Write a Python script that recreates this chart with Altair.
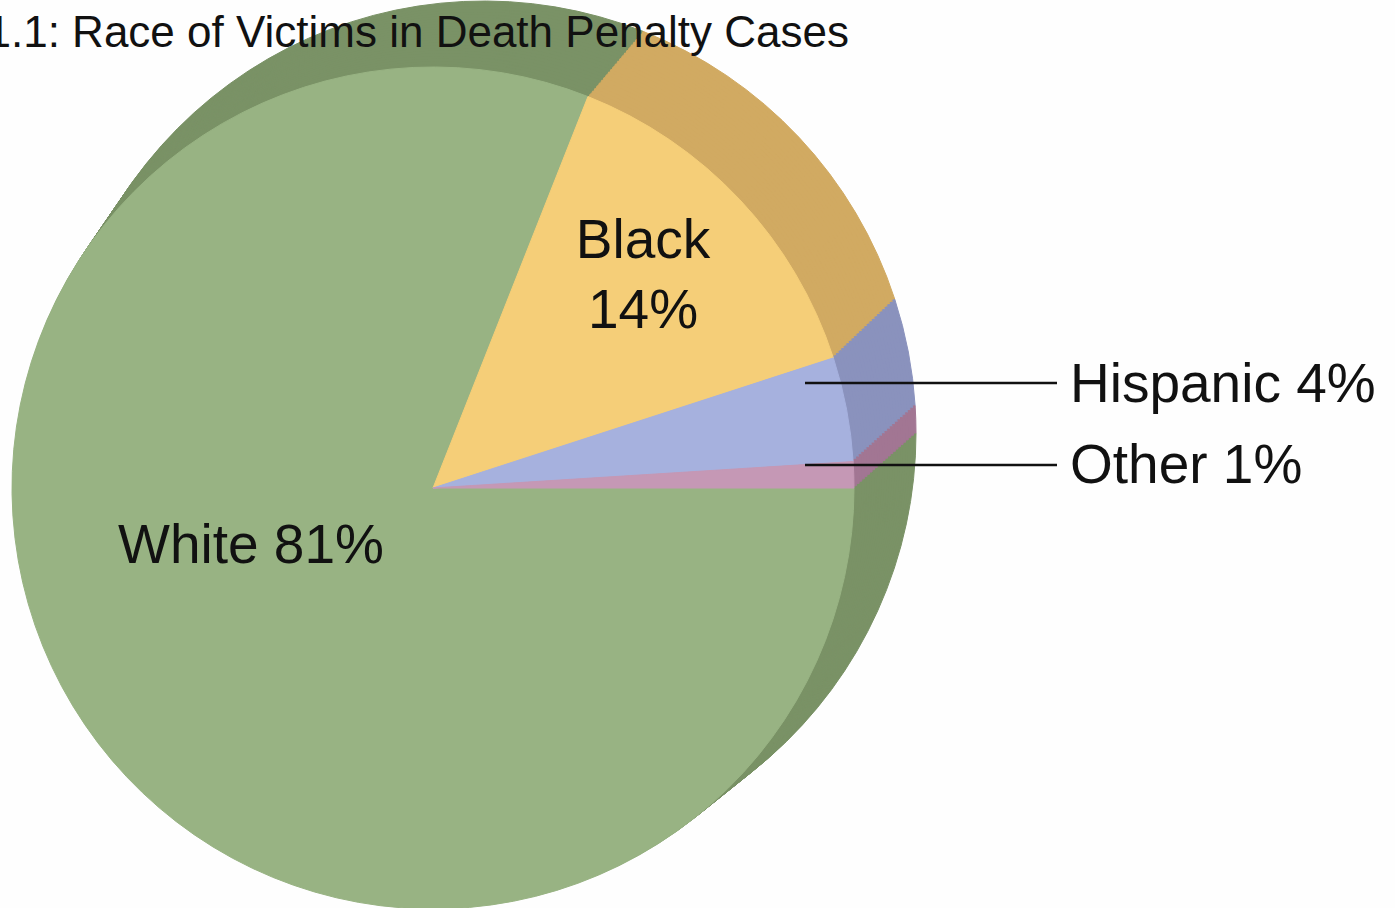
import math
import altair as alt
import pandas as pd

# ---- data ----
races = ["White", "Black", "Hispanic", "Other"]
shares = [81, 14, 4, 1]
front_colors = ["#98b383", "#f5ce78", "#a6b1de", "#c598b5"]
side_colors = ["#7a9266", "#d1aa62", "#8a92bd", "#a27693"]
title_text = "1.1: Race of Victims in Death Penalty Cases"

df = pd.DataFrame({
    "race": races,
    "share": shares,
    "idx": list(range(len(races))),
    "front": front_colors,
    "side": side_colors,
})
df["label"] = [f"{r} {s}%" for r, s in zip(races, shares)]

theta = alt.Theta("share:Q", stack=True,
                  scale=alt.Scale(range=[math.pi / 2, 5 * math.pi / 2]))


def pie(cx, cy, r, colfield):
    return alt.Chart(df).mark_arc(radius=r, strokeWidth=1).encode(
        theta=theta,
        order=alt.Order("idx:Q"),
        color=alt.Color(f"{colfield}:N", scale=None),
        stroke=alt.Stroke(f"{colfield}:N", scale=None),
        x=alt.value(cx),
        y=alt.value(cy),
    )


# extruded (3-D) body: back face -> front face
back_c, back_r = (484, 433), 432
front_c, front_r = (433, 488), 421
N = 24
layers = []
for i in range(N):
    t = i / N
    cx = back_c[0] + (front_c[0] - back_c[0]) * t
    cy = back_c[1] + (front_c[1] - back_c[1]) * t
    r = back_r + (front_r - back_r) * t
    layers.append(pie(cx, cy, r, "side"))
layers.append(pie(front_c[0], front_c[1], front_r, "front"))

font = "Liberation Sans"


def label(race_name, text_expr, x, y, align="left", size=55):
    return alt.Chart(df).transform_filter(
        alt.datum.race == race_name
    ).transform_calculate(txt=text_expr).mark_text(
        font=font, fontSize=size, align=align, baseline="alphabetic", color="#111111"
    ).encode(text="txt:N", x=alt.value(x), y=alt.value(y))


texts = [
    label("White", "datum.label", 118, 563),
    label("Black", "datum.race", 643, 258, align="center"),
    label("Black", "datum.share + '%'", 643, 328, align="center"),
    label("Hispanic", "datum.label", 1070, 402),
    label("Other", "datum.label", 1070, 483),
]

rules = [
    alt.Chart(df).transform_filter(alt.datum.race == name).mark_rule(
        color="#111111", strokeWidth=2.5
    ).encode(x=alt.value(805), x2=alt.value(1057), y=alt.value(yy))
    for name, yy in [("Hispanic", 383), ("Other", 465)]
]

title = alt.Chart(pd.DataFrame({"t": [title_text]})).mark_text(
    font=font, fontSize=44, align="right", baseline="alphabetic", color="#111111"
).encode(text="t:N", x=alt.value(849), y=alt.value(47))

chart = alt.layer(*layers, *rules, *texts, title).properties(
    width=1395, height=908,
    autosize=alt.AutoSizeParams(type="none"),
    padding=0,
    background="#fefefe",
).configure_view(stroke=None)

chart.save("out.html", embed_options={"renderer": "svg", "actions": False})
